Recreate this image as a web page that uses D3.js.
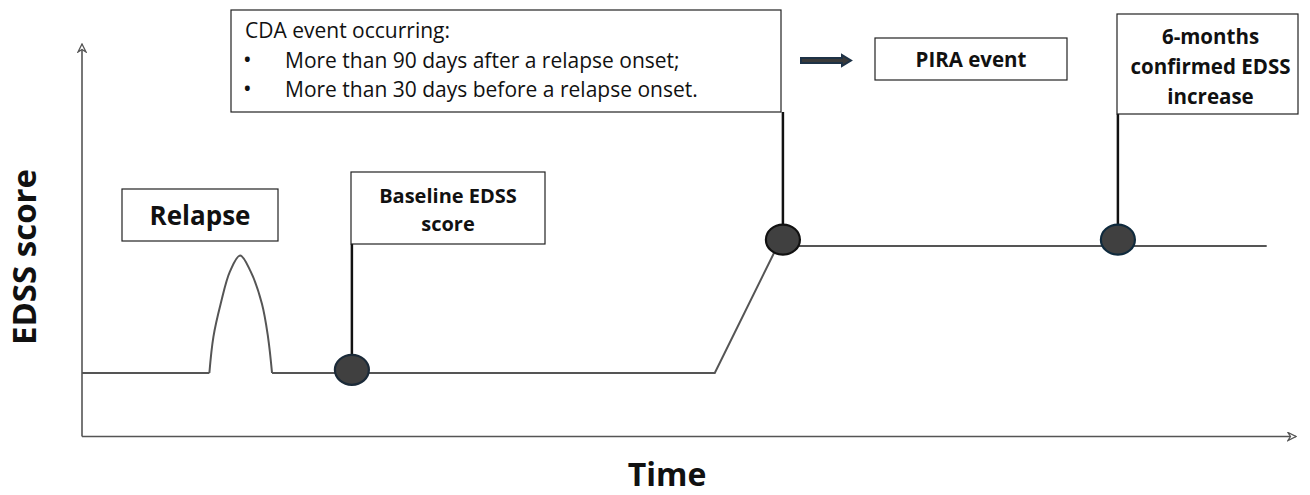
<!DOCTYPE html>
<html><head><meta charset="utf-8">
<script src="https://cdn.jsdelivr.net/npm/d3@7"></script>
<style>
html,body{margin:0;padding:0;background:#fff;}
svg{display:block;font-family:"Open Sans",sans-serif;}
</style></head>
<body>
<svg id="chart" width="1310" height="495"></svg>
<script>
// ---- data (time in arbitrary months, EDSS score) ----
const flatTimes   = [0, 6.3, 9.4, 31.3, 34.4, 58.6];
const flatEdss    = [1.0, 1.0, 1.0, 1.0, 3.0, 3.0];
const relapseTimes = [6.3, 6.5, 6.86, 7.32, 7.82, 8.34, 8.9, 9.2, 9.4];
const relapseEdss  = [1.0, 1.57, 2.09, 2.6, 2.85, 2.6, 2.09, 1.57, 1.0];
const markerTimes = [13.35, 34.67, 51.24];
const markerEdss  = [1.05, 3.1, 3.1];
const markerStroke = ["#1b2a38", "#111111", "#0f2a3d"];
const xTitle = "Time";
const yTitle = "EDSS score";
const cdaTitle = "CDA event occurring:";
const cdaBullets = ["More than 90 days after a relapse onset;", "More than 30 days before a relapse onset."];
const relapseLabel = ["Relapse"];
const baselineLabel = ["Baseline EDSS", "score"];
const piraLabel = ["PIRA event"];
const confirmedLabel = ["6-months", "confirmed EDSS", "increase"];

const svg = d3.select("#chart");
const x = d3.scaleLinear().domain([0, 60]).range([82, 1295]);
const y = d3.scaleLinear().domain([0, 6]).range([436.5, 55.5]);

// defs: arrowheads
const defs = svg.append("defs");
defs.append("marker").attr("id","openArrow").attr("viewBox","0 0 10 10")
  .attr("refX",9).attr("refY",5).attr("markerWidth",10).attr("markerHeight",10)
  .attr("markerUnits","userSpaceOnUse").attr("orient","auto")
  .append("path").attr("d","M1,1 L9,5 L1,9 L3.5,5 Z").attr("fill","#fff").attr("stroke","#555").attr("stroke-width",1.3);

// axes
svg.append("line").attr("x1",x(0)).attr("y1",y(0)).attr("x2",x(0)).attr("y2",44)
  .attr("stroke","#555").attr("stroke-width",1.6).attr("marker-end","url(#openArrow)");
svg.append("line").attr("x1",x(0)).attr("y1",y(0)).attr("x2",1296).attr("y2",y(0))
  .attr("stroke","#555").attr("stroke-width",1.6).attr("marker-end","url(#openArrow)");

// axis titles
svg.append("text").attr("x",667).attr("y",486).attr("text-anchor","middle")
  .attr("font-size",32).attr("font-weight","bold").attr("fill","#111").text(xTitle);
svg.append("text").attr("transform","translate(36,257) rotate(-90)").attr("text-anchor","middle")
  .attr("font-size",33).attr("font-weight","bold").attr("fill","#111").text(yTitle);

// EDSS line
const flatPts = flatTimes.map((t,i)=>[t, flatEdss[i]]);
const relPts = relapseTimes.map((t,i)=>[t, relapseEdss[i]]);
const lineL = d3.line().x(d=>x(d[0])).y(d=>y(d[1]));
const lineC = d3.line().x(d=>x(d[0])).y(d=>y(d[1])).curve(d3.curveCatmullRom.alpha(0.5));
svg.append("path").attr("d", lineL([flatPts[0],flatPts[1]])).attr("fill","none").attr("stroke","#555").attr("stroke-width",2);
svg.append("path").attr("d", lineL(flatPts.slice(2))).attr("fill","none").attr("stroke","#555").attr("stroke-width",2);
svg.append("path").attr("d", lineC(relPts)).attr("fill","none").attr("stroke","#555").attr("stroke-width",2);

// boxes
function box(x0, y0, w, h, lines, opts) {
  svg.append("rect").attr("x",x0).attr("y",y0).attr("width",w).attr("height",h)
    .attr("fill","#fff").attr("stroke","#222").attr("stroke-width",1.2);
  const lh = opts.lh, fs = opts.fs;
  const cy = y0 + h/2 + (opts.dy||0);
  lines.forEach((s,i)=>{
    svg.append("text").attr("x", x0 + w/2 + (opts.dx||0)).attr("y", cy + (i - (lines.length-1)/2)*lh)
      .attr("text-anchor","middle").attr("dominant-baseline","central")
      .attr("font-size",fs).attr("font-weight","bold").attr("fill","#111").text(s);
  });
}

// connectors (drawn before markers)
function connector(t, e, yTop) {
  svg.append("line").attr("x1",x(t)).attr("x2",x(t)).attr("y1",yTop).attr("y2",y(e))
    .attr("stroke","#111").attr("stroke-width",2.5);
}
connector(markerTimes[0], markerEdss[0], 244);
connector(markerTimes[1], markerEdss[1], 112);
connector(markerTimes[2], markerEdss[2], 114);

box(122, 189, 156, 52, relapseLabel, {fs:26, lh:28, dy:0, dx:0});
box(351, 172, 194, 72, baselineLabel, {fs:20, lh:28, dy:1});
box(875, 38, 192, 42, piraLabel, {fs:20.5, lh:24, dy:0});
box(1117, 14, 181, 100, confirmedLabel, {fs:20.5, lh:30, dy:2, dx:3});

// CDA box
svg.append("rect").attr("x",231).attr("y",10).attr("width",550).attr("height",102)
  .attr("fill","#fff").attr("stroke","#222").attr("stroke-width",1.2);
svg.append("text").attr("x",245).attr("y",38).attr("font-size",21).attr("fill","#111").text(cdaTitle);
cdaBullets.forEach((s,i)=>{
  const t = svg.append("text").attr("x",243).attr("y",68+i*29).attr("font-size",21).attr("fill","#111");
  t.append("tspan").attr("font-size",23).text("•");
  t.append("tspan").attr("x",285).text(s);
});

// block arrow to PIRA
const arrowPath = d3.path();
arrowPath.moveTo(801, 58); arrowPath.lineTo(842, 58); arrowPath.lineTo(842, 55);
arrowPath.lineTo(851, 60.5); arrowPath.lineTo(842, 66); arrowPath.lineTo(842, 63);
arrowPath.lineTo(801, 63); arrowPath.closePath();
svg.append("path").attr("d", arrowPath.toString()).attr("fill","#3a3a3a")
  .attr("stroke","#1e3246").attr("stroke-width",2).attr("stroke-linejoin","miter");

// markers
svg.selectAll("ellipse.mk").data(markerTimes).enter().append("ellipse")
  .attr("class","mk").attr("cx",d=>x(d)).attr("cy",(d,i)=>y(markerEdss[i]))
  .attr("rx",17).attr("ry",15).attr("fill","#404040")
  .attr("stroke",(d,i)=>markerStroke[i]).attr("stroke-width",2.2);
</script>
</body></html>
